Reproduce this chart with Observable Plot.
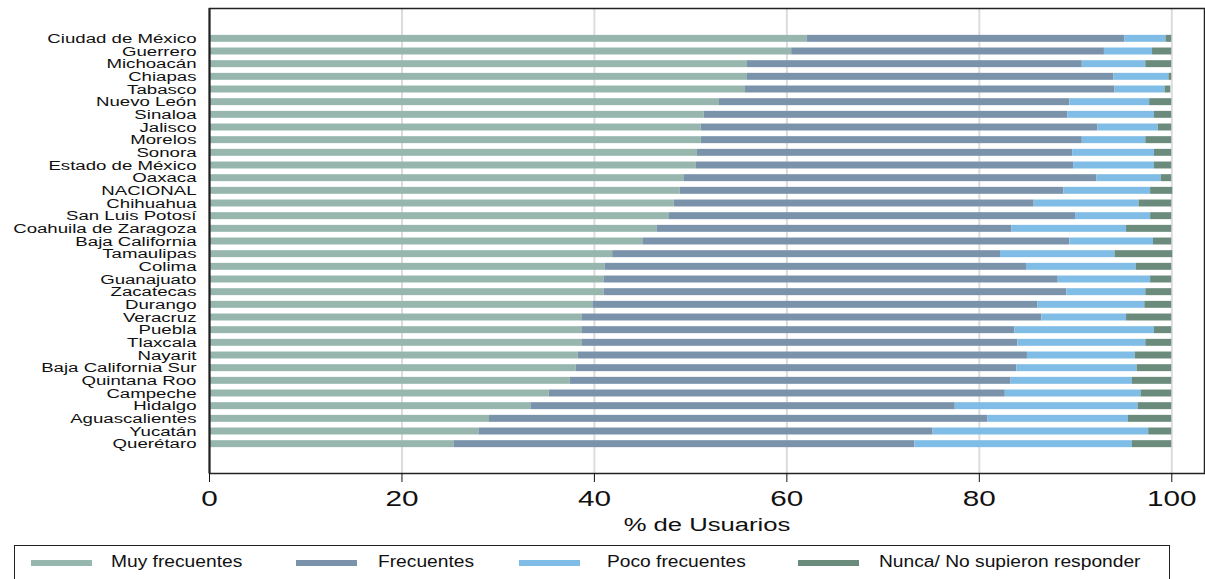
<!DOCTYPE html>
<html>
<head>
<meta charset="utf-8">
<script src="https://cdn.jsdelivr.net/npm/d3@7"></script>
<script src="https://cdn.jsdelivr.net/npm/@observablehq/plot@0.6"></script>
<style>
  html, body { margin: 0; padding: 0; background: #fff; }
  body { width: 1205px; height: 579px; overflow: hidden; position: relative; font-family: "Liberation Sans", Arial, Helvetica, sans-serif; }
  #chart { position: absolute; left: 0; top: 0; }
  #legend { position: absolute; left: 14px; top: 545px; width: 1156px; height: 40px; border: 1.5px solid #222; box-sizing: border-box; }
  .sw { position: absolute; top: 14px; width: 61px; height: 6px; }
  .lt { position: absolute; top: 6px; font-size: 16px; line-height: 20px; color: #111; transform: scaleX(1.2); transform-origin: left center; white-space: nowrap; }
</style>
</head>
<body>
<div id="chart"></div>
<div id="legend"></div>
<script>
const states = ["Ciudad de México","Guerrero","Michoacán","Chiapas","Tabasco","Nuevo León","Sinaloa","Jalisco","Morelos","Sonora","Estado de México","Oaxaca","NACIONAL","Chihuahua","San Luis Potosí","Coahuila de Zaragoza","Baja California","Tamaulipas","Colima","Guanajuato","Zacatecas","Durango","Veracruz","Puebla","Tlaxcala","Nayarit","Baja California Sur","Quintana Roo","Campeche","Hidalgo","Aguascalientes","Yucatán","Querétaro"];
const seriesNames = ["Muy frecuentes","Frecuentes","Poco frecuentes","Nunca/ No supieron responder"];
const seriesColors = ["#97b7ae","#7b92ab","#80bde6","#6b8c7c"];
const muyFrecuentes  = [62.1,60.5,55.9,55.9,55.7,53.0,51.4,51.1,51.1,50.7,50.6,49.3,48.9,48.3,47.8,46.5,45.1,41.9,41.1,41.0,41.0,39.9,38.7,38.7,38.7,38.3,38.1,37.5,35.3,33.4,29.1,28.0,25.4];
const frecuentes     = [33.0,32.5,34.8,38.1,38.4,36.4,37.8,41.2,39.6,39.0,39.2,42.9,39.9,37.4,42.2,36.9,44.3,40.3,43.8,47.2,48.1,46.2,47.8,45.0,45.3,46.7,45.8,45.8,47.4,44.1,51.8,47.2,47.9];
const pocoFrecuentes = [4.3,5.0,6.6,5.7,5.2,8.3,9.0,6.3,6.6,8.5,8.4,6.7,9.0,10.9,7.8,11.9,8.7,11.9,11.4,9.6,8.2,11.1,8.8,14.5,13.3,11.2,12.5,12.6,14.1,19.0,14.6,22.4,22.6];
const nunca          = [0.6,2.0,2.7,0.3,0.6,2.3,1.8,1.4,2.7,1.8,1.8,1.1,2.3,3.4,2.2,4.7,1.9,6.0,3.7,2.2,2.7,2.8,4.7,1.8,2.7,3.8,3.6,4.1,3.2,3.5,4.5,2.4,4.1];
const xTicks = [0,20,40,60,80,100];
const xLabel = "% de Usuarios";

const seriesValues = [muyFrecuentes, frecuentes, pocoFrecuentes, nunca];
const rows = [];
seriesNames.forEach((s, si) => {
  states.forEach((st, i) => rows.push({state: st, series: s, value: seriesValues[si][i]}));
});

const plot = Plot.plot({
  width: 1205,
  height: 540,
  marginLeft: 209,
  marginRight: 1,
  marginTop: 8,
  marginBottom: 67,
  style: {fontFamily: '"Liberation Sans", Arial, Helvetica, sans-serif', color: "#111", background: "#fff"},
  x: {domain: [0, 103.4]},
  y: {domain: states, range: [32, 450], paddingInner: 0.45, paddingOuter: 0.225, align: 0.5, round: false},
  color: {domain: seriesNames, range: seriesColors},
  marks: [
    Plot.gridX(xTicks.filter(d => d > 0), {stroke: "#dcdcdc", strokeWidth: 2, strokeOpacity: 1}),
    Plot.barX(rows, Plot.stackX({x: "value", y: "state", fill: "series", order: null})),
    Plot.frame({stroke: "#222", strokeWidth: 1.5}),
    Plot.ruleX([0], {stroke: "#222", strokeWidth: 2}),
    Plot.axisX({ticks: xTicks, tickSize: 9, tickPadding: 8, fontSize: 22, label: null, tickFormat: d => String(d)}),
    Plot.axisY({tickSize: 0, tickPadding: 13, fontSize: 11.3, label: null}),
    Plot.text([xLabel], {frameAnchor: "bottom", dy: 51, text: d => d, fontSize: 19, lineAnchor: "middle"})
  ]
});

for (const t of plot.querySelectorAll('g[aria-label="y-axis tick label"] text')) {
  const tr = t.getAttribute("transform") || "";
  t.setAttribute("transform", (tr + " scale(1.65,1.12)").trim());
}
for (const t of plot.querySelectorAll('g[aria-label="x-axis tick label"] text, g[aria-label="text"] text')) {
  const tr = t.getAttribute("transform") || "";
  t.setAttribute("transform", (tr + " scale(1.35,1)").trim());
}
document.getElementById("chart").appendChild(plot);

const legend = document.getElementById("legend");
const swLeft = [16, 281, 504, 783];
const txtLeft = [96, 363, 592, 864];
seriesNames.forEach((s, i) => {
  const sw = document.createElement("div");
  sw.className = "sw";
  sw.style.left = swLeft[i] + "px";
  sw.style.background = seriesColors[i];
  legend.appendChild(sw);
  const tx = document.createElement("div");
  tx.className = "lt";
  tx.style.left = txtLeft[i] + "px";
  tx.textContent = s;
  legend.appendChild(tx);
});
</script>
</body>
</html>
